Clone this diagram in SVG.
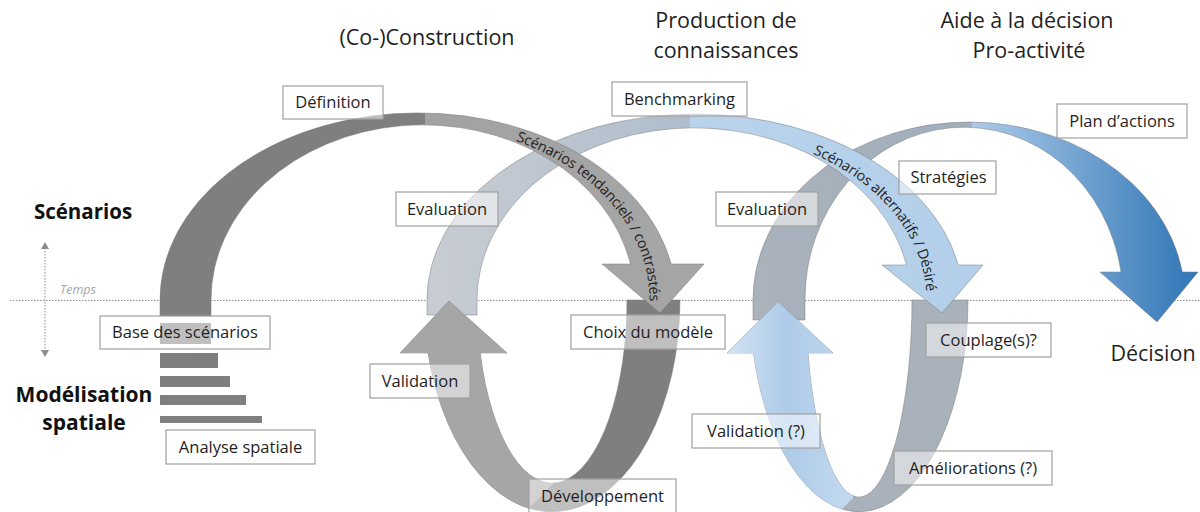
<svg xmlns="http://www.w3.org/2000/svg" width="1200" height="512" viewBox="0 0 1200 512">
<defs>
  <linearGradient id="gA1" gradientUnits="userSpaceOnUse" x1="160" y1="0" x2="704" y2="0">
    <stop offset="0" stop-color="#7f7f7f"/>
    <stop offset="0.487" stop-color="#7f7f7f"/>
    <stop offset="0.487" stop-color="#a2a2a2"/>
    <stop offset="1" stop-color="#a6a6a6"/>
  </linearGradient>
  <linearGradient id="gA2" gradientUnits="userSpaceOnUse" x1="427" y1="0" x2="983" y2="0">
    <stop offset="0" stop-color="#c9cdd3"/>
    <stop offset="0.473" stop-color="#aebdcc"/>
    <stop offset="0.473" stop-color="#b9d3ec"/>
    <stop offset="1" stop-color="#b3cfe9"/>
  </linearGradient>
  <linearGradient id="gA3" gradientUnits="userSpaceOnUse" x1="753" y1="0" x2="1200" y2="0">
    <stop offset="0" stop-color="#aab2bb"/>
    <stop offset="0.49" stop-color="#a0aebd"/>
    <stop offset="0.49" stop-color="#aecbe8"/>
    <stop offset="1" stop-color="#2e75b6"/>
  </linearGradient>
  <linearGradient id="gL2" gradientUnits="userSpaceOnUse" x1="727" y1="0" x2="860" y2="0">
    <stop offset="0" stop-color="#d2e3f3"/>
    <stop offset="0.45" stop-color="#aecbe9"/>
    <stop offset="1" stop-color="#c6dbef"/>
  </linearGradient>
  <clipPath id="clipL1"><polygon points="300,280 555,280 555,482 515,522 300,522"/></clipPath>
  <clipPath id="clipL2"><polygon points="700,280 853,280 853,498 829,522 700,522"/></clipPath>
  <path id="tp1" d="M420.5 119 A235 181 0 0 1 655.5 300 L655.5 340"/>
  <path id="tp2" d="M694.5 124 A238 176 0 0 1 932.5 300 L932.5 340"/>
</defs>
<style>
  .box{fill:#ffffff;fill-opacity:0.5;stroke:#a0a0a0;stroke-width:1.2}
  .lbl{font-family:"Open Sans",sans-serif;font-size:16.5px;fill:#1f1f1f;text-anchor:middle}
  .title{font-family:"Open Sans",sans-serif;font-size:21.5px;fill:#1f1f1f;text-anchor:middle}
  .side{font-family:"Open Sans",sans-serif;font-weight:bold;fill:#111111;text-anchor:middle}
  .arc{font-family:"Open Sans",sans-serif;font-size:14.5px;fill:#1f1f1f}
  .shape{stroke:#777777;stroke-width:0.8;stroke-opacity:0.6}
  .bar{fill:#7f7f7f}
  .guide{stroke:#8c8c8c;stroke-width:1;stroke-dasharray:1.5 1.5;fill:none}
</style>

<g id="axes">
  <line class="guide" x1="10" y1="300.5" x2="1200" y2="300.5"/>
  <line class="guide" x1="45" y1="248" x2="45" y2="351"/>
  <polygon points="41,249 49,249 45,242" fill="#8c8c8c"/>
  <polygon points="41,350 49,350 45,357" fill="#8c8c8c"/>
  <text x="60" y="294" font-family="'Open Sans',sans-serif" font-style="italic" font-size="12.5" fill="#a6a6a6">Temps</text>
</g>

<g id="connectors">
  <g id="arrow-plan">
    <path class="shape" fill="url(#gA3)" d="M753 320 L753 300 A216 178 0 0 1 1182.3 272 L1198 272 L1157 322 L1100 272 L1121 272 A159 172 0 0 0 805 300 L805 320 Z"/>
  </g>
  <g id="loop-2">
    <path class="shape" fill="#a9b1ba" d="M968 300 A109 212 0 0 1 753.5 353 L727 353 L778 302 L833 353 L808 353 A53 198 0 0 0 912 300 Z"/>
    <path fill="url(#gL2)" clip-path="url(#clipL2)" d="M968 300 A109 212 0 0 1 753.5 353 L727 353 L778 302 L833 353 L808 353 A53 198 0 0 0 912 300 Z"/>
  </g>
  <g id="arrow-alternatifs">
    <path class="shape" fill="url(#gA2)" d="M427 315 L427 300 A268 186 0 0 1 958.2 265 L983 265 L942 313 L882 265 L906.5 265 A217 172 0 0 0 477 300 L477 315 Z"/>
    <text class="arc" dominant-baseline="central"><textPath href="#tp2" startOffset="124">Scénarios</textPath></text>
    <text class="arc" dominant-baseline="central"><textPath href="#tp2" startOffset="193">alternatifs</textPath></text>
    <text class="arc" dominant-baseline="central"><textPath href="#tp2" startOffset="265.3">/ Désiré</textPath></text>
  </g>
  <g id="loop-1">
    <path class="shape" fill="#7f7f7f" d="M680 300 A128 212 0 0 1 428.1 353 L400 353 L449 301 L507 353 L480.2 353 A75 183 0 0 0 627 300 Z"/>
    <path fill="#a6a6a6" clip-path="url(#clipL1)" d="M680 300 A128 212 0 0 1 428.1 353 L400 353 L449 301 L507 353 L480.2 353 A75 183 0 0 0 627 300 Z"/>
  </g>
  <g id="arrow-tendanciels">
    <path class="shape" fill="url(#gA1)" d="M160 316 L160 300 A258 187 0 0 1 671.2 264 L704 264 L660 313 L602 264 L630.5 264 A212 175 0 0 0 211 300 L211 316 Z"/>
    <text class="arc" dominant-baseline="central"><textPath href="#tp1" startOffset="99">Scénarios tendanciels / contrastés</textPath></text>
  </g>
  <g id="bars">
    <rect class="bar" x="160" y="323" width="51" height="21"/>
    <rect class="bar" x="160" y="353" width="58" height="15"/>
    <rect class="bar" x="160" y="376" width="70" height="11"/>
    <rect class="bar" x="160" y="395" width="86" height="10"/>
    <rect class="bar" x="160" y="416" width="102" height="7"/>
  </g>
</g>

<g id="titles">
  <text class="title" x="427" y="45">(Co-)Construction</text>
  <text class="title" x="726" y="28">Production de</text>
  <text class="title" x="726" y="58">connaissances</text>
  <text class="title" x="1027" y="28">Aide à la décision</text>
  <text class="title" x="1029" y="58">Pro-activité</text>
  <text class="title" x="1153" y="361">Décision</text>
  <text class="side" x="83" y="219" font-size="20.5">Scénarios</text>
  <text class="side" x="84" y="402" font-size="21">Modélisation</text>
  <text class="side" x="84" y="430" font-size="21">spatiale</text>
</g>

<g id="n-definition"><rect class="box" x="283" y="86" width="100" height="33"/><text class="lbl" x="333" y="108.4">Définition</text></g>
<g id="n-benchmarking"><rect class="box" x="612" y="82" width="135" height="34"/><text class="lbl" x="679.5" y="104.9">Benchmarking</text></g>
<g id="n-evaluation-1"><rect class="box" x="396" y="192" width="102" height="34"/><text class="lbl" x="447" y="214.9">Evaluation</text></g>
<g id="n-evaluation-2"><rect class="box" x="716" y="192" width="102" height="34"/><text class="lbl" x="767" y="214.9">Evaluation</text></g>
<g id="n-strategies"><rect class="box" x="899" y="161" width="97" height="33"/><text class="lbl" x="948.5" y="183.4">Stratégies</text></g>
<g id="n-plan"><rect class="box" x="1057" y="104" width="130" height="34"/><text class="lbl" x="1122" y="126.9">Plan d’actions</text></g>
<g id="n-base"><rect class="box" x="100" y="316" width="170" height="33"/><text class="lbl" x="185" y="338.4">Base des scénarios</text></g>
<g id="n-analyse"><rect class="box" x="166" y="430" width="149" height="34"/><text class="lbl" x="240.5" y="452.9">Analyse spatiale</text></g>
<g id="n-validation-1"><rect class="box" x="370" y="364" width="100" height="34"/><text class="lbl" x="420" y="386.9">Validation</text></g>
<g id="n-choix"><rect class="box" x="571" y="315" width="154" height="34"/><text class="lbl" x="648" y="337.9">Choix du modèle</text></g>
<g id="n-developpement"><rect class="box" x="529" y="479" width="147" height="34"/><text class="lbl" x="602.5" y="501.9">Développement</text></g>
<g id="n-validation-2"><rect class="box" x="692" y="414" width="128" height="34"/><text class="lbl" x="756" y="436.9">Validation (?)</text></g>
<g id="n-couplage"><rect class="box" x="926" y="323" width="125" height="34"/><text class="lbl" x="988.5" y="345.9">Couplage(s)?</text></g>
<g id="n-ameliorations"><rect class="box" x="894" y="451" width="158" height="34"/><text class="lbl" x="973" y="473.9">Améliorations (?)</text></g>
</svg>
